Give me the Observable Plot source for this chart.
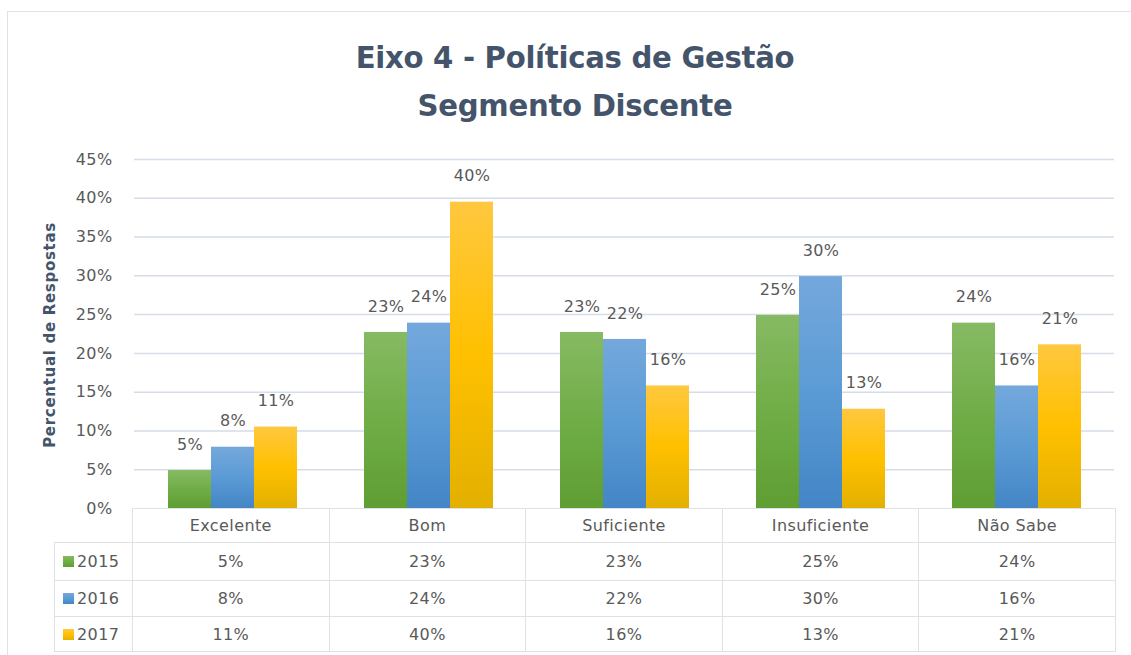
<!DOCTYPE html>
<html>
<head>
<meta charset="utf-8">
<script src="https://cdn.jsdelivr.net/npm/d3@7"></script>
<script src="https://cdn.jsdelivr.net/npm/@observablehq/plot@0.6"></script>
<style>
  html, body { margin: 0; padding: 0; background: #fff; }
  body { width: 1131px; height: 655px; overflow: hidden; position: relative; font-family: "DejaVu Sans", sans-serif; }
  #frame { position: absolute; left: 7px; top: 11px; width: 1200px; height: 700px;
           border-left: 1.5px solid #dfe3e8; border-top: 1.5px solid #dfe3e8; }
  #title { position: absolute; left: 0; width: 1150px; top: 33px; text-align: center;
           font-family: "DejaVu Sans", sans-serif; letter-spacing: -0.3px;
           transform: scaleX(0.94); transform-origin: 575px 0;
           font-weight: bold; font-size: 31px; line-height: 48px; color: #44546A; }
  #ytitle { position: absolute; left: 50px; top: 335px; transform: translate(-50%, -50%) rotate(-90deg);
            white-space: nowrap; font-family: "DejaVu Sans", sans-serif; letter-spacing: 0.7px;
            font-weight: bold; font-size: 15px; color: #44546A; }
  #chart { position: absolute; left: 0; top: 140px; }
  #table { position: absolute; left: 54px; top: 508px; border-collapse: collapse; table-layout: fixed;
           font-family: "DejaVu Sans", sans-serif; font-size: 16px; color: #595959; letter-spacing: 0.4px; }
  #table td { border: 1.5px solid #dde2e8; text-align: center; padding: 0; }
  #table td.corner { border: none; }
  #table td.key { text-align: left; padding-left: 8px; }
  .sw { display: inline-block; width: 11px; height: 11px; margin-right: 3px; vertical-align: 0px; }
</style>
</head>
<body>
<div id="frame"></div>
<div id="title">Eixo 4 - Políticas de Gestão<br>Segmento Discente</div>
<div id="ytitle">Percentual de Respostas</div>
<div id="chart"></div>
<table id="table"></table>
<script>
// ---- data ----
const categories = ["Excelente", "Bom", "Suficiente", "Insuficiente", "Não Sabe"];
const years = ["2015", "2016", "2017"];
const values2015 = [4.9, 22.7, 22.7, 24.9, 23.9];
const values2016 = [7.9, 23.9, 21.8, 29.9, 15.8];
const values2017 = [10.5, 39.5, 15.8, 12.8, 21.1];
const labels2015 = ["5%", "23%", "23%", "25%", "24%"];
const labels2016 = ["8%", "24%", "22%", "30%", "16%"];
const labels2017 = ["11%", "40%", "16%", "13%", "21%"];
const yTicks = [0, 5, 10, 15, 20, 25, 30, 35, 40, 45];

const seriesValues = {"2015": values2015, "2016": values2016, "2017": values2017};
const seriesLabels = {"2015": labels2015, "2016": labels2016, "2017": labels2017};
const gradients = {
  "2015": ["#86BA63", "#70AD47", "#5F9E33"],
  "2016": ["#74A8DC", "#5B9BD5", "#4385C6"],
  "2017": ["#FFC83F", "#FFC000", "#E3B000"]
};

const data = categories.flatMap((c, i) => years.map(y => ({
  category: c, year: y, value: seriesValues[y][i], label: seriesLabels[y][i]
})));

const chart = Plot.plot({
  width: 1131,
  height: 382,
  marginTop: 19,
  marginBottom: 14,
  marginLeft: 132,
  marginRight: 15,
  style: {fontFamily: "DejaVu Sans, sans-serif", fontSize: "16px", color: "#595959", background: "transparent", overflow: "visible"},
  fx: {domain: categories, padding: 0, axis: null, label: null},
  x: {domain: years, paddingInner: 0, paddingOuter: 0.75, axis: null, label: null},
  y: {domain: [0, 45], axis: null, label: null},
  color: {type: "identity"},
  marks: [
    Plot.gridY(yTicks.filter(d => d > 0), {stroke: "#d5dcea", strokeOpacity: 1, strokeWidth: 1.5}),
    Plot.axisY(yTicks, {tickSize: 0, tickPadding: 22, tickFormat: d => d + "%", fill: "#595959", fontSize: 16, label: null}),
    Plot.barY(data, {fx: "category", x: "year", y: "value", fill: d => `url(#grad${d.year})`}),
    Plot.text(data, {fx: "category", x: "year", y: "value", text: "label", dy: -26, fill: "#595959", fontSize: 16})
  ]
});

// gradient defs
const svg = d3.select(chart);
const defs = svg.insert("defs", ":first-child");
for (const y of years) {
  const g = defs.append("linearGradient").attr("id", "grad" + y)
    .attr("x1", 0).attr("y1", 0).attr("x2", 0).attr("y2", 1);
  g.append("stop").attr("offset", "0%").attr("stop-color", gradients[y][0]);
  g.append("stop").attr("offset", "50%").attr("stop-color", gradients[y][1]);
  g.append("stop").attr("offset", "100%").attr("stop-color", gradients[y][2]);
}
svg.selectAll("text").style("letter-spacing", "0.4px");
document.getElementById("chart").appendChild(chart);

// data table
const table = d3.select("#table");
const colgroup = table.append("colgroup");
colgroup.append("col").style("width", "78px");
categories.forEach(() => colgroup.append("col").style("width", "196.6px"));
const head = table.append("tr").style("height", "34px");
head.append("td").attr("class", "corner");
categories.forEach(c => head.append("td").text(c));
const rowHeights = {"2015": "38px", "2016": "36px", "2017": "35px"};
years.forEach(y => {
  const tr = table.append("tr").style("height", rowHeights[y]);
  const k = tr.append("td").attr("class", "key");
  k.append("span").attr("class", "sw")
    .style("background", `linear-gradient(${gradients[y][0]}, ${gradients[y][1]}, ${gradients[y][2]})`);
  k.append("span").text(y);
  seriesLabels[y].forEach(l => tr.append("td").text(l));
});
</script>
</body>
</html>
